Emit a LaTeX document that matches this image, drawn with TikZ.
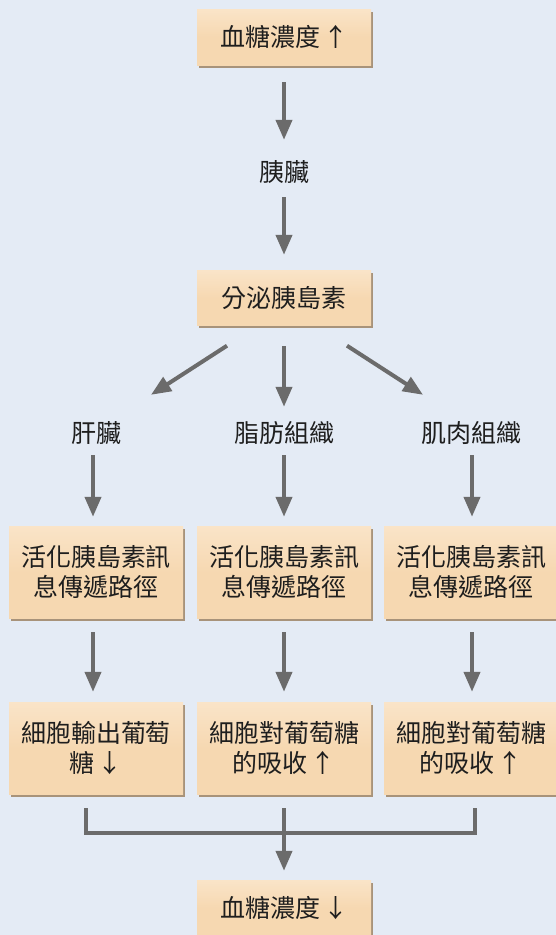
\documentclass[tikz,border=0pt]{standalone}
\usepackage{fontspec}
\setmainfont{Noto Sans CJK TC}
\usetikzlibrary{arrows.meta,shadows}
\definecolor{bgc}{HTML}{E4EBF5}
\definecolor{boxc}{HTML}{F6D8B1}
\definecolor{boxtop}{HTML}{FAE4C8}
\definecolor{shadc}{HTML}{A8937A}
\definecolor{arrc}{HTML}{6B6B6B}
\definecolor{txtc}{HTML}{1E1E1E}
\tikzset{
  box/.style={rectangle, top color=boxtop, bottom color=boxc, middle color=boxc,
    minimum width=174pt, inner sep=0pt,
    align=center, text=txtc, font=\fontsize{25pt}{30pt}\selectfont,
    drop shadow={shadow xshift=1.5pt, shadow yshift=-2.5pt, fill=shadc, opacity=1}},
  lbl/.style={rectangle, minimum height=30pt, inner sep=0pt, text=txtc,
    font=\fontsize{25pt}{30pt}\selectfont},
  arr/.style={draw=arrc, line width=4pt, -{Triangle[length=20pt,width=16pt]}},
  brk/.style={draw=arrc, line width=4pt}
}
\newcommand{\ua}{\hspace{3pt}↑}
\newcommand{\da}{\hspace{3pt}↓}
\begin{document}
\begin{tikzpicture}[x=1pt,y=-1pt]
\fill[bgc] (0,0) rectangle (556,935);
\useasboundingbox (0,0) rectangle (556,935);
% nodes
\node[box, minimum height=56pt] (b1) at (284,37) {血糖濃度\ua};
\node[lbl] (l1) at (284,172) {胰臟};
\node[box, minimum height=55pt] (b2) at (284,298) {分泌胰島素};
\node[lbl] (l2a) at (96,433) {肝臟};
\node[lbl] (l2b) at (284,433) {脂肪組織};
\node[lbl] (l2c) at (471,433) {肌肉組織};
\node[box, minimum height=92pt] (b3a) at (96,572) {活化胰島素訊\\息傳遞路徑};
\node[box, minimum height=92pt] (b3b) at (284,572) {活化胰島素訊\\息傳遞路徑};
\node[box, minimum height=92pt] (b3c) at (471,572) {活化胰島素訊\\息傳遞路徑};
\node[box, minimum height=92pt] (b4a) at (96,748) {細胞輸出葡萄\\糖\da};
\node[box, minimum height=92pt] (b4b) at (284,748) {細胞對葡萄糖\\的吸收\ua};
\node[box, minimum height=92pt] (b4c) at (471,748) {細胞對葡萄糖\\的吸收\ua};
\node[box, minimum height=56pt] (b5) at (284,908) {血糖濃度\da};
% connectors
\draw[arr, shorten <=17pt, shorten >=17pt] (b1) -- (l1);
\draw[arr, shorten <=10pt, shorten >=15.5pt] (l1) -- (b2);
\draw[arr] ([shift={(-57,20)}]b2.south) -- ([shift={(55,-23)}]l2a.north);
\draw[arr, shorten <=20.5pt, shorten >=11pt] (b2.south) -- (l2b.north);
\draw[arr] ([shift={(63,20)}]b2.south) -- ([shift={(-48,-23)}]l2c.north);
\draw[arr, shorten <=7pt, shorten >=9pt] ([xshift=-3pt]l2a.south) -- ([xshift=-3pt]b3a.north);
\draw[arr, shorten <=7pt, shorten >=9pt] (l2b.south) -- (b3b.north);
\draw[arr, shorten <=7pt, shorten >=9pt] ([xshift=1pt]l2c.south) -- ([xshift=1pt]b3c.north);
\draw[arr, shorten <=14pt, shorten >=10pt] ([xshift=-3pt]b3a.south) -- ([xshift=-3pt]b4a.north);
\draw[arr, shorten <=14pt, shorten >=10pt] (b3b.south) -- (b4b.north);
\draw[arr, shorten <=14pt, shorten >=10pt] ([xshift=1pt]b3c.south) -- ([xshift=1pt]b4c.north);
\draw[brk] ([shift={(-10,14)}]b4a.south) -- ++(0,25) -| ([shift={(4,14)}]b4c.south);
\draw[arr, shorten <=14pt, shorten >=9pt] (b4b.south) -- (b5.north);
\end{tikzpicture}
\end{document}
